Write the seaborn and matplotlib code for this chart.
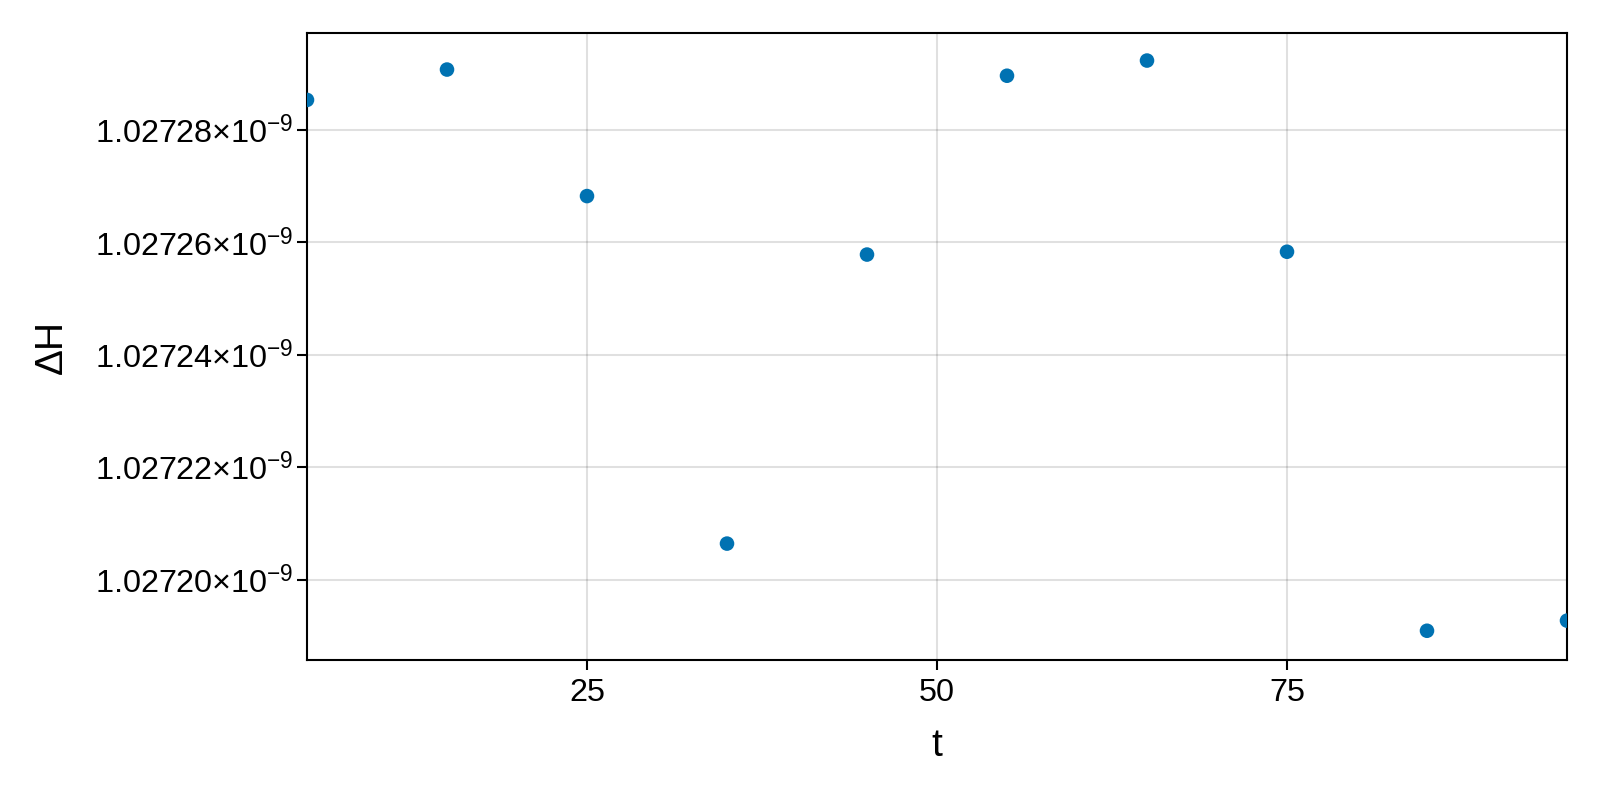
import matplotlib
matplotlib.use("Agg")
import matplotlib.pyplot as plt
import seaborn as sns
import pandas as pd
from matplotlib.ticker import FixedLocator, FuncFormatter

# data
t = [5, 15, 25, 35, 45, 55, 65, 75, 85, 95]
dH = [1.0272853e-9, 1.0272907e-9, 1.0272682e-9, 1.0272064e-9, 1.0272578e-9,
      1.0272896e-9, 1.0272923e-9, 1.0272583e-9, 1.0271909e-9, 1.0271927e-9]
x_ticks = [25, 50, 75]
y_ticks = [1.02720e-9, 1.02722e-9, 1.02724e-9, 1.02726e-9, 1.02728e-9]

df = pd.DataFrame({"t": t, "dH": dH})

sns.set_style("white")
plt.rcParams["font.family"] = ["Liberation Sans", "DejaVu Sans"]
plt.rcParams["mathtext.fontset"] = "custom"
plt.rcParams["mathtext.rm"] = "Liberation Sans"
plt.rcParams["mathtext.it"] = "Liberation Sans:italic"
plt.rcParams["mathtext.bf"] = "Liberation Sans:bold"
plt.rcParams["text.color"] = "black"
plt.rcParams["axes.labelcolor"] = "black"
plt.rcParams["xtick.color"] = "black"
plt.rcParams["ytick.color"] = "black"

fig = plt.figure(figsize=(16, 8), dpi=100)
ax = fig.add_axes([307 / 1600, 1 - 660 / 800, (1567 - 307) / 1600, (660 - 33) / 800])

sns.scatterplot(data=df, x="t", y="dH", ax=ax, color="#0072B2", s=110,
                edgecolor="none", zorder=3)

ax.set_xlim(5, 95)
ax.set_ylim(1.0271857e-9, 1.0272972e-9)
ax.xaxis.set_major_locator(FixedLocator(x_ticks))
ax.yaxis.set_major_locator(FixedLocator(y_ticks))
ax.yaxis.set_major_formatter(
    FuncFormatter(lambda v, p: r"$%.5f{\times}10^{-9}$" % (v * 1e9)))

ax.grid(True, color="#000000", alpha=0.12, linewidth=1.5)
ax.set_axisbelow(True)
for sp in ax.spines.values():
    sp.set_color("black")
    sp.set_linewidth(1.5)

ax.tick_params(axis="both", direction="out", length=7.2, width=1.5,
               labelsize=23.3, bottom=True, left=True)
ax.tick_params(axis="x", pad=6)
ax.tick_params(axis="y", pad=2.5)

ax.set_xlabel("t", fontsize=28, labelpad=14)
ax.set_ylabel("ΔH", fontsize=28, labelpad=18)

fig.savefig("out.png", dpi=100)
